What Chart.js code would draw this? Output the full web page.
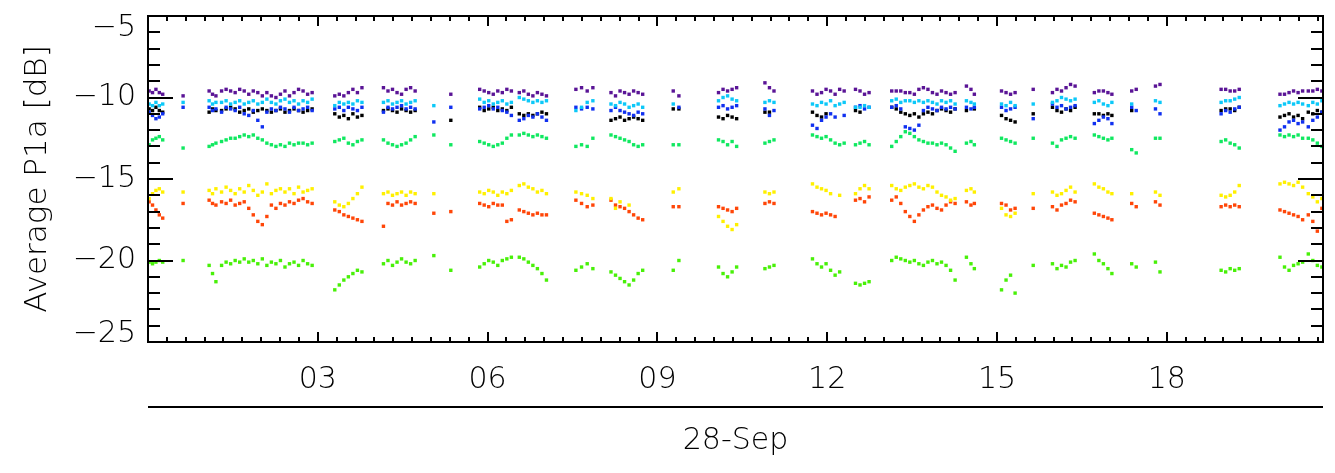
<!DOCTYPE html>
<html><head><meta charset="utf-8">
<script src="https://cdn.jsdelivr.net/npm/chart.js@4"></script>
<style>html,body{margin:0;padding:0;background:#fff;overflow:hidden}canvas{display:block}</style>
</head><body>
<canvas id="c" width="1335" height="473"></canvas>
<script>
// Sample times (hours of 28-Sep), grouped by observation segment
const hours = [
 [0.02,0.08,0.14,0.20,0.26],
 [0.62],
 [1.08,1.14,1.20,1.30,1.38,1.46,1.54,1.62,1.70,1.78,1.86,1.94,2.02,2.10,2.18,2.26,2.34,2.42,2.50,2.58,2.66,2.74,2.82,2.90],
 [3.30,3.38,3.46,3.54,3.62,3.70,3.78],
 [4.16,4.24,4.32,4.40,4.48,4.56,4.64,4.72],
 [5.05,5.35],
 [5.86,5.94,6.02,6.10,6.18,6.26,6.34,6.42],
 [6.56,6.64,6.72,6.80,6.88,6.96,7.04],
 [7.56,7.66,7.76,7.86],
 [8.18,8.26,8.34,8.42,8.50,8.58,8.66,8.74],
 [9.28,9.38],
 [10.08,10.16,10.24,10.32,10.40],
 [10.90,10.98,11.06],
 [11.74,11.82,11.90,11.98,12.06,12.14,12.22,12.30,12.50,12.58,12.66,12.74],
 [13.14,13.22,13.30,13.38,13.46,13.54,13.62,13.70,13.78,13.86,13.94,14.02,14.10,14.18,14.26,14.46,14.54,14.60],
 [15.08,15.16,15.24,15.32],
 [15.64],
 [15.98,16.06,16.14,16.22,16.30,16.38],
 [16.72,16.80,16.88,16.96,17.03],
 [17.38,17.46,17.80,17.88],
 [18.96,19.04,19.12,19.20,19.28],
 [20.00,20.08,20.16,20.24,20.32,20.40],
 [20.50,20.58,20.66,20.74]
];

const purpleSeries = [
 [-9.6,-9.7,-9.5,-9.7,-9.8],
 [-9.9],
 [-9.6,-9.8,-9.9,-9.6,-9.5,-9.6,-9.7,-9.5,-9.6,-9.8,-9.6,-9.7,-9.9,-9.7,-9.9,-10.0,-9.8,-9.6,-9.9,-9.7,-9.5,-9.6,-9.8,-9.7],
 [-9.9,-9.8,-9.9,-9.7,-9.5,-9.7,-9.4],
 [-9.4,-9.6,-9.5,-9.7,-9.8,-9.5,-9.4,-9.6],
 [null,-9.8],
 [-9.5,-9.6,-9.7,-9.8,-9.6,-9.7,-9.5,-9.6],
 [-9.7,-9.6,-9.8,-9.9,-9.7,-9.8,-9.9],
 [-9.5,-9.4,-9.6,-9.4],
 [-9.7,-9.9,-9.6,-9.7,-9.8,-9.6,-9.7,-9.8],
 [-9.6,-9.9],
 [-9.7,-9.5,-9.6,-9.5,-9.4],
 [-9.1,-9.4,-9.6],
 [-9.6,-9.8,-9.7,-9.5,-9.6,-9.8,-9.5,-9.6,-9.5,-9.6,-9.8,-9.7],
 [-9.6,-9.6,-9.6,-9.7,-9.7,-9.8,-9.5,-9.4,-9.5,-9.7,-9.8,-9.6,-9.7,-9.8,-9.7,-9.3,-9.5,-9.8],
 [-9.6,-9.7,-9.8,-9.7],
 [-9.5],
 [-9.7,-9.5,-9.6,-9.4,-9.2,-9.3],
 [-9.7,-9.6,-9.6,-9.7,-9.8],
 [-9.6,-9.5,-9.3,-9.2],
 [-9.5,-9.5,-9.6,-9.6,-9.5],
 [-9.8,-9.8,-9.7,-9.6,-9.7,-9.6],
 [-9.6,-9.6,-9.5,-9.6]
];

const cyanSeries = [
 [-10.4,-10.5,-10.3,-10.5,-10.4],
 [-10.3],
 [-10.2,-10.4,-10.3,-10.3,-10.2,-10.4,-10.3,-10.2,-10.4,-10.3,-10.2,-10.4,-10.3,-10.1,-10.3,-10.4,-10.2,-10.1,-10.3,-10.2,-10.4,-10.2,-10.3,-10.1],
 [-10.5,-10.3,-10.4,-10.3,-10.4,-10.2,-10.3],
 [-10.3,-10.2,-10.4,-10.3,-10.2,-10.4,-10.3,-10.2],
 [-10.5,null],
 [-10.1,-10.3,-10.2,-10.4,-10.3,-10.2,-10.4,-10.3],
 [-10.0,-10.1,-10.2,-10.3,-10.2,-10.3,-10.2],
 [-10.8,-10.6,-10.3,-10.2],
 [-10.4,-10.5,-10.3,-10.4,-10.6,-10.5,-10.4,-10.6],
 [-10.4,null],
 [-10.2,-10.0,-9.9,-10.1,-10.2],
 [-10.3,-10.2,-10.3],
 [-10.4,-10.5,-10.3,-10.4,-10.2,-10.5,-10.4,-10.3,-10.6,-10.6,-10.5,-10.6],
 [-10.2,-10.1,-10.3,-10.2,-10.2,-10.3,-10.2,-10.3,-10.2,-10.3,-10.4,-10.2,-10.3,-10.2,-10.4,-10.2,-10.3,-10.4],
 [-10.4,-10.5,-10.3,-10.5],
 [-10.4],
 [-10.3,-10.2,-10.0,-10.1,-10.2,-10.1],
 [-10.3,-10.2,-10.4,-10.5,-10.3],
 [-10.4,null,-10.2,-10.3],
 [-10.3,-10.2,-10.2,-10.1,-10.0],
 [-10.5,-10.4,-10.3,-10.4,-10.3,-10.4],
 [-10.5,-10.3,-10.4,-10.2]
];

const blueSeries = [
 [-10.9,-11.1,-11.3,-11.2,-11.0],
 [-10.6],
 [-10.6,-10.8,-10.7,-10.9,-10.6,-10.7,-10.8,-10.6,-11.0,-11.1,-10.8,-11.4,-11.8,-10.9,-10.7,-10.8,-10.6,-10.7,-10.9,-10.6,-10.8,-10.7,-10.6,-10.8],
 [-10.7,-10.6,-10.8,-10.6,-10.7,-10.8,-10.6],
 [-10.9,-10.6,-10.7,-10.6,-10.5,-10.7,-10.6,-10.7],
 [-11.5,-10.6],
 [-10.7,-10.6,-10.5,-10.7,-10.6,-10.8,-10.9,-11.1],
 [-11.4,-11.3,-11.1,-11.2,-11.0,-11.2,-11.4],
 [-10.6,-10.7,-10.6,-10.7],
 [-10.8,-10.6,-10.8,-10.9,-11.0,-11.1,-10.9,-11.0],
 [null,-10.6],
 [-10.6,-10.5,-10.7,-10.6,-10.5],
 [-10.7,-11.1,-10.8],
 [-11.7,-11.9,-11.4,-11.2,-11.0,-11.2,null,-11.1,-10.6,-10.5,-10.7,-10.6],
 [-10.6,-10.5,-10.7,-11.8,-11.9,-12.0,-11.7,-10.8,-10.6,-10.7,-10.8,-10.6,-10.7,-10.6,-10.7,-10.6,-10.7,-10.6],
 [-10.6,-10.8,-10.7,-10.6],
 [-11.3],
 [-10.4,-10.6,-10.5,-10.7,-10.6,-10.5],
 [-11.6,-11.4,-11.2,-11.3,-11.6],
 [-10.6,-10.8,-10.7,-11.0],
 [-11.0,-10.8,-10.9,-10.7,-10.6],
 [-12.0,-11.8,-11.5,-11.4,-11.6,-11.5],
 [-11.8,-11.4,-11.2,-10.9]
];

const blackSeries = [
 [-10.7,-10.8,-10.6,-10.8,-10.9],
 [null],
 [-10.9,-10.7,-10.8,-10.8,-10.7,-10.6,-10.7,-10.9,-10.8,-10.7,-10.9,-10.8,-10.7,-10.8,-10.9,-10.8,-10.7,-10.9,-10.8,-10.7,-10.8,-10.9,-10.8,-10.7],
 [-11.0,-11.2,-11.1,-11.3,-11.0,-11.2,-11.1],
 [-10.8,-10.7,-10.8,-10.9,-10.7,-10.8,-10.9,-10.8],
 [null,-11.4],
 [-10.6,-10.8,-10.7,-10.6,-10.8,-10.7,-10.8,-10.6],
 [-11.0,-11.1,-11.0,-11.1,-11.0,-10.9,-11.0],
 [null,null,null,null],
 [-11.4,-11.3,-11.2,-11.4,-11.3,-11.2,-11.3,-11.4],
 [-10.7,-10.7],
 [-11.2,-11.3,-11.1,-11.2,-11.3],
 [-10.9,-10.9,null],
 [-10.9,-11.1,-11.2,-11.0,null,null,null,null,-10.8,-10.9,null,null],
 [-10.6,-10.7,-10.9,-11.0,-11.1,-11.0,-11.2,-11.0,-10.9,-11.0,-10.8,-10.7,-10.8,-10.9,-10.7,-10.8,null,-10.7],
 [-11.1,-11.3,-11.4,-11.5],
 [-11.0],
 [-10.6,-10.8,-10.9,-10.7,-10.8,-10.6],
 [-11.0,-11.0,-11.1,-11.0,-11.1],
 [-10.8,null,null,null],
 [-10.8,-10.7,-10.7,-10.8,-10.6],
 [-11.2,-11.1,-11.0,-11.2,-11.1,-11.3],
 [-10.9,-11.0,-10.8,-10.9]
];

const greenSeries = [
 [-12.9,-12.6,-12.5,-12.4,-12.6],
 [-13.1],
 [-13.0,-12.9,-12.8,-12.7,-12.6,-12.5,-12.5,-12.4,-12.3,-12.4,-12.3,-12.5,-12.6,-12.8,-12.9,-13.0,-12.9,-13.0,-12.8,-12.9,-12.8,-12.8,-12.9,-12.8],
 [-12.7,-12.6,-12.5,-12.8,-12.9,-12.7,-12.6],
 [-12.6,-12.8,-12.9,-13.0,-12.9,-12.8,-12.6,-12.4],
 [-12.3,-12.9],
 [-12.7,-12.8,-12.9,-13.0,-12.9,-12.8,-12.5,-12.3],
 [-12.3,-12.2,-12.3,-12.4,-12.3,-12.4,-12.5],
 [-13.0,-12.9,-13.0,-12.5],
 [-12.3,-12.4,-12.5,-12.6,-12.7,-12.9,-13.0,-12.9],
 [-12.9,-12.9],
 [-12.6,-12.7,-12.9,-12.7,-13.0],
 [-12.8,-12.7,-12.6],
 [-12.3,-12.4,-12.5,-12.4,-12.6,-12.8,-12.9,-12.8,-12.9,-12.8,-12.7,-12.9],
 [-13.0,-12.7,-12.4,-12.1,-12.2,-12.4,-12.6,-12.7,-12.8,-12.8,-12.9,-12.8,-12.9,-13.1,-13.3,-12.8,-12.7,-12.9],
 [-12.5,-12.6,-12.7,-12.8],
 [-12.5],
 [-12.8,-13.0,-12.6,-12.5,-12.4,-12.5],
 [-12.3,-12.4,-12.5,-12.6,-12.5],
 [-13.2,-13.4,-12.5,-12.5],
 [-12.7,-12.6,-12.8,-12.9,-13.1],
 [-12.3,-12.4,-12.3,-12.4,-12.3,-12.5],
 [-12.5,-12.6,-12.8,-13.0]
];

const yellowSeries = [
 [-16.2,-15.9,-15.7,-15.6,-15.8],
 [-15.8],
 [-15.7,-15.9,-15.6,-15.8,-15.5,-15.7,-15.9,-15.6,-15.8,-15.4,-15.7,-16.0,-15.8,-15.3,-15.9,-15.7,-15.6,-15.8,-15.6,-15.9,-15.5,-15.8,-15.7,-15.6],
 [-16.4,-16.6,-16.7,-16.5,-16.2,-15.9,-15.5],
 [-15.9,-15.8,-16.0,-15.9,-15.8,-16.0,-15.8,-15.9],
 [-15.9,null],
 [-15.8,-15.9,-15.7,-15.8,-16.0,-15.8,-15.9,-15.7],
 [-15.4,-15.3,-15.5,-15.6,-15.8,-15.7,-15.9],
 [-15.8,-15.9,-16.0,-16.2],
 [-16.2,-16.8,-16.4,null,-16.6,null,null,null],
 [-15.8,-15.6],
 [-17.3,-17.6,-17.9,-18.1,-17.8],
 [-15.8,-15.9,-15.8],
 [-15.3,-15.5,-15.6,-15.7,-15.9,null,-16.0,null,-15.9,-15.6,-15.4,-15.6],
 [-15.4,-15.6,-15.7,-15.5,-15.4,-15.3,-15.5,-15.6,-15.4,-15.5,-15.8,-16.0,-16.1,-16.3,-16.2,-15.7,-15.6,-15.8],
 [-16.8,-17.2,-17.3,-17.1],
 [-15.9],
 [-15.8,-16.0,-15.9,-15.7,-15.5,-15.8],
 [-15.3,-15.5,-15.6,-15.8,-15.9],
 [-15.9,null,-15.8,-16.0],
 [-16.0,-16.1,-16.0,-15.8,-15.4],
 [-15.3,-15.2,-15.3,-15.4,-15.2,-15.5],
 [-15.9,-16.1,-16.4,-16.2]
];

const redSeries = [
 [-16.4,-16.6,-16.9,-17.2,-17.4],
 [-16.5],
 [-16.3,-16.5,-16.6,-16.4,-16.5,-16.3,-16.6,-16.5,-16.4,-16.8,-17.2,-17.6,-17.8,-17.3,-16.6,-16.8,-16.5,-16.6,-16.4,-16.5,-16.3,-16.2,-16.4,-16.5],
 [-16.9,-17.0,-17.2,-17.3,-17.4,-17.5,-17.6],
 [-17.9,-16.5,-16.6,-16.4,-16.6,-16.5,-16.4,-16.5],
 [-17.1,-17.0],
 [-16.5,-16.6,-16.7,-16.5,-16.6,-16.6,-17.6,-17.5],
 [-16.9,-17.0,-17.1,-17.2,-17.1,-17.2,-17.2],
 [-16.3,-16.5,-16.7,-16.6],
 [-16.3,-16.6,-16.7,-16.8,-17.0,-17.2,-17.4,-17.5],
 [-16.7,-16.7],
 [-16.7,-16.8,-16.9,-17.0,-16.8],
 [-16.5,-16.4,-16.5],
 [-17.0,-17.1,-17.2,-17.1,-17.2,-17.3,null,null,-16.3,-16.2,-16.4,-16.1],
 [-16.3,-16.1,-16.5,-17.0,-17.3,-17.6,-17.2,-16.9,-16.7,-16.6,-16.8,-16.9,-16.6,-16.4,-16.5,-16.4,-16.6,-16.5],
 [-16.5,-16.6,-16.9,-16.8],
 [-16.8],
 [-16.7,-16.9,-16.6,-16.5,-16.3,-16.4],
 [-17.1,-17.2,-17.3,-17.4,-17.5],
 [-16.5,-16.7,-16.4,-16.6],
 [-16.7,-16.6,-16.7,-16.6,-16.7],
 [-16.9,-17.0,-17.1,-17.2,-17.3,-17.5],
 [-17.2,-17.6,-18.2,-16.8]
];

const limeSeries = [
 [-20.1,-20.2,-20.1,-20.0,-20.1],
 [-20.0],
 [-20.3,-20.8,-21.3,-20.3,-20.1,-20.2,-20.0,-20.1,-19.9,-20.1,-20.0,-20.2,-19.9,-20.3,-20.1,-20.2,-20.0,-20.4,-20.2,-20.1,-20.3,-20.0,-20.2,-20.3],
 [-21.8,-21.5,-21.2,-21.0,-20.8,-20.6,-20.7],
 [-20.2,-20.0,-20.3,-20.1,-19.9,-20.1,-20.2,-20.0],
 [-19.7,-20.6],
 [-20.4,-20.2,-20.0,-20.1,-20.3,-20.0,-19.9,-19.8],
 [-19.8,-19.9,-20.1,-20.3,-20.5,-20.8,-21.2],
 [-20.6,-20.4,-20.2,-20.5],
 [-20.7,-20.9,-21.1,-21.3,-21.5,-21.2,-20.8,-20.6],
 [-20.6,-20.0],
 [-20.4,-20.8,-21.0,-20.7,-20.4],
 [-20.5,-20.4,-20.3],
 [-19.9,-20.2,-20.4,-20.2,-20.6,-20.9,-20.7,null,-21.4,-21.5,-21.4,-21.3],
 [-20.0,-19.8,-19.9,-20.0,-20.1,-20.0,-20.2,-20.3,-20.1,-20.0,-20.2,-20.1,-20.3,-20.6,-21.2,-19.8,-20.2,-20.5],
 [-21.8,-21.2,-20.9,-22.0],
 [-20.3],
 [-20.2,-20.5,-20.3,-20.4,-20.1,-20.0],
 [-19.6,-20.0,-20.2,-20.5,-20.8],
 [-20.2,-20.4,-20.1,-20.7],
 [-20.6,-20.7,-20.5,-20.6,-20.5],
 [-19.8,-20.4,-20.6,-20.3,-20.2,-20.1],
 [-19.6,-20.0,-20.3,-20.4]
];

const seriesList = [purpleSeries, cyanSeries, blueSeries, blackSeries, greenSeries, yellowSeries, redSeries, limeSeries];
const seriesNames = ['purple','cyan','blue','black','green','yellow','red','lime'];
const seriesColors = ['#5a1496','#0cc8f8','#1030f0','#000000','#10e860','#fff000','#ff4608','#48f008'];
const yTickValues = [-25,-20,-15,-10,-5];
const xTickLabels = ['03','06','09','12','15','18'];
const xAxisTitle = '28-Sep';
const yAxisTitle = 'Average P1a [dB]';

function toPoints(series) {
  const pts = [];
  hours.forEach((seg, i) => {
    seg.forEach((h, j) => {
      const v = series[i][j];
      if (v !== null && v !== undefined) pts.push({x: h, y: v});
    });
  });
  return pts;
}

const FONT = "'DejaVu Sans', sans-serif";

const framePlugin = {
  id: 'frame',
  afterDraw(chart) {
    const {ctx, chartArea: a, scales: {x, y}} = chart;
    ctx.save();
    ctx.strokeStyle = '#000';
    ctx.lineWidth = 2;
    ctx.strokeRect(a.left, a.top, a.right - a.left, a.bottom - a.top);
    ctx.beginPath();
    for (let v = y.min; v <= y.max; v += 1) {
      const py = Math.round(y.getPixelForValue(v));
      const len = (v % 5 === 0) ? 25 : 12;
      ctx.moveTo(a.left, py); ctx.lineTo(a.left + len, py);
      ctx.moveTo(a.right, py); ctx.lineTo(a.right - len, py);
    }
    for (let i = 0; i / 3 <= x.max; i++) {
      const px = Math.round(x.getPixelForValue(i / 3));
      const len = (i % 9 === 0) ? 10 : 5;
      ctx.moveTo(px, a.bottom); ctx.lineTo(px, a.bottom - len);
      ctx.moveTo(px, a.top); ctx.lineTo(px, a.top + len);
    }
    ctx.stroke();
    // date separator line under the hour labels
    ctx.beginPath();
    ctx.moveTo(a.left, a.bottom + 65);
    ctx.lineTo(a.right, a.bottom + 65);
    ctx.stroke();
    ctx.restore();
  }
};

new Chart(document.getElementById('c'), {
  type: 'scatter',
  data: {
    datasets: seriesList.map((s, i) => ({
      label: seriesNames[i],
      data: toPoints(s),
      backgroundColor: seriesColors[i],
      borderColor: seriesColors[i],
      pointStyle: 'rect',
      pointRadius: 2.4,
      pointBorderWidth: 0,
      showLine: false
    }))
  },
  options: {
    responsive: false,
    devicePixelRatio: 1,
    animation: false,
    events: [],
    layout: { padding: { top: 16, right: 12, left: 0, bottom: 0 } },
    plugins: { legend: { display: false }, tooltip: { enabled: false } },
    scales: {
      x: {
        type: 'linear',
        min: 0,
        max: 20.76,
        grid: { display: false, drawTicks: false },
        border: { display: false },
        ticks: {
          stepSize: 3,
          autoSkip: false,
          maxRotation: 0,
          padding: 20,
          color: '#000',
          font: { family: FONT, size: 30, weight: '200' },
          callback: (v) => {
            const lbl = String(v).padStart(2, '0');
            return xTickLabels.includes(lbl) ? lbl : '';
          }
        },
        title: {
          display: true,
          text: xAxisTitle,
          color: '#000',
          font: { family: FONT, size: 30, weight: '200' },
          padding: { top: 0, bottom: 14 }
        },
        afterFit: (s) => { s.height = 131; s.paddingLeft = 0; s.paddingRight = 0; }
      },
      y: {
        type: 'linear',
        min: -25,
        max: -5,
        grid: { display: false, drawTicks: false },
        border: { display: false },
        ticks: {
          stepSize: 5,
          padding: 12,
          color: '#000',
          // end labels sit inside the axis range, as in the original plot
          font: (ctx) => {
            const v = ctx.tick ? ctx.tick.value : null;
            const lh = v === -5 ? '24px' : (v === -25 ? '16px' : 1.2);
            return { family: FONT, size: 30, weight: '200', lineHeight: lh };
          },
          callback: (v) => {
            if (!yTickValues.includes(v)) return '';
            const t = '\u2212' + Math.abs(v);
            if (v === -5) return ['', t];
            if (v === -25) return [t, ''];
            return t;
          }
        },
        title: {
          display: true,
          text: yAxisTitle,
          color: '#000',
          font: { family: FONT, size: 31, weight: '200' },
          padding: { top: 19, bottom: 0 }
        },
        afterFit: (s) => { s.width = 148; s.paddingTop = 0; s.paddingBottom = 0; }
      }
    }
  },
  plugins: [framePlugin]
});
</script>
</body></html>
